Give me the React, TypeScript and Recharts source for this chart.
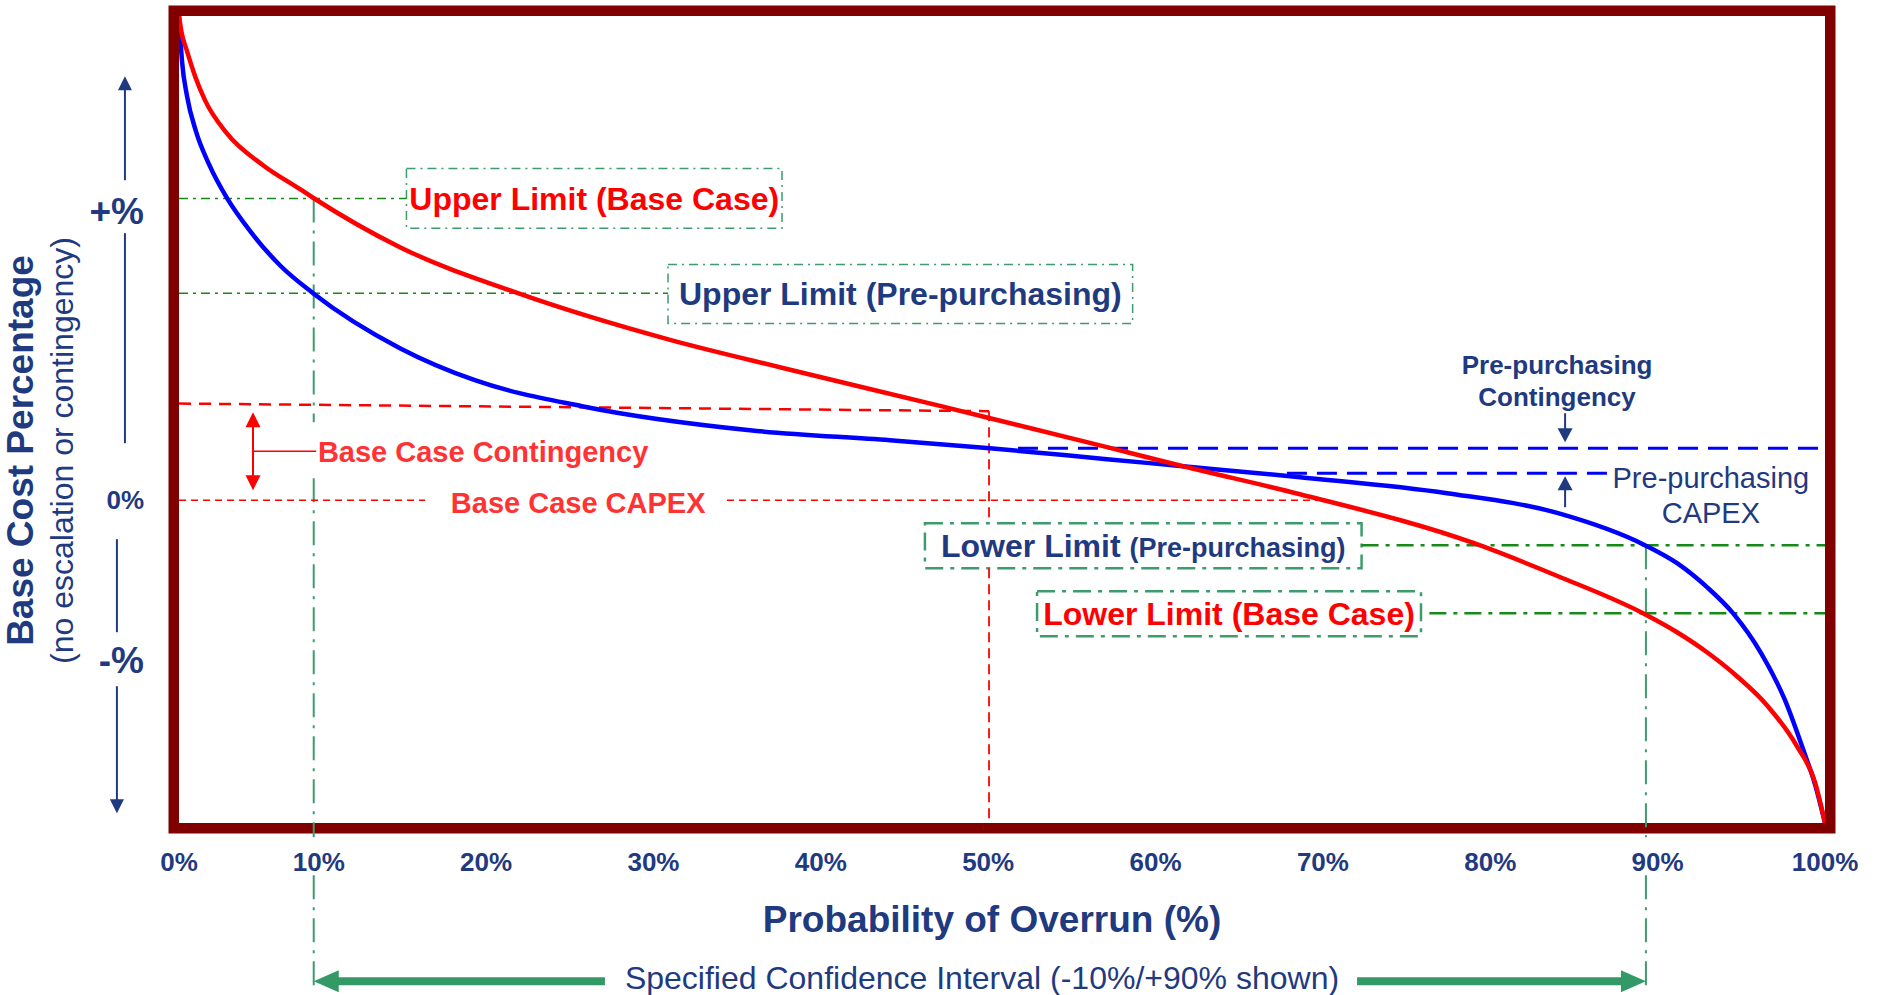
import React from "react";
import {
  LineChart,
  Line,
  XAxis,
  YAxis,
  ReferenceLine,
  ReferenceArea,
  ReferenceDot,
} from "recharts";

const FONT = "'Liberation Sans', Arial, Helvetica, sans-serif";
const NAVY = "#1F3A7F";
const RED = "#FF0000";
const SOFT_RED = "#FF3333";
const BLUE = "#0000FF";
const FRAME = "#800000";
const LINE_GREEN = "#168A16";
const BOX_GREEN = "#3D9C6D";
const ARROW_GREEN = "#339966";

// x axis: the "0%" label sits on the frame, 10%..100% are evenly spaced
const xStart = 1.65;
const xTicks = [xStart, 10, 20, 30, 40, 50, 60, 70, 80, 90, 100];
const xTickLabels = ["0%", "10%", "20%", "30%", "40%", "50%", "60%", "70%", "80%", "90%", "100%"];

// y axis has no numbers, just direction markers
const yTicks = [35.9, 0, -19.8];
const yTickLabels = ["+%", "0%", "-%"];

// Base case curve (red)
const baseCaseX = [1.65, 1.8, 2.11, 2.61, 3.2, 4.5, 6.67, 8.88, 9.66, 14.85, 21.9, 31.05, 38.04, 47.18, 50.11, 57.1, 61.64, 68.63, 79.03, 84.05, 89.24, 91.16, 92.95, 94.74, 96.53, 98.32, 99.4, 100];
const baseCaseY = [60, 57.99, 55.76, 52.54, 49.57, 45.48, 41.51, 38.54, 37.48, 31.35, 25.65, 19.83, 16.23, 11.65, 10.16, 6.57, 4.21, 0.74, -5.33, -9.42, -14.13, -16.36, -18.84, -21.81, -25.4, -30.48, -34.94, -40];

// Pre-purchasing curve (blue)
const prePurchX = [1.65, 1.83, 2.13, 2.66, 3.44, 4.52, 5.95, 7.74, 9.66, 14.85, 19.33, 25.73, 35.77, 44.13, 50.11, 57.1, 61.64, 68.63, 77.41, 84.05, 89.24, 91.16, 92.95, 94.5, 96.18, 97.61, 98.69, 99.4, 100];
const prePurchY = [60, 54.4, 50.06, 45.73, 41.64, 37.42, 33.21, 28.99, 25.65, 18.84, 14.87, 11.65, 8.67, 7.43, 6.44, 5.08, 4.21, 2.85, 0.87, -1.61, -5.58, -7.81, -10.78, -14.0, -18.96, -24.78, -30.86, -35.19, -40];

// levels and markers
const upperBase = 37.4;
const upperPre = 25.65;
const lowerPre = -5.58;
const lowerBase = -14.0;
const baseContLeft = 11.98;
const baseContRight = 11.03;
const baseCapex = 0;
const preCont = 6.44;
const preCapex = 3.35;
const p10 = 9.7;
const p50 = 50.05;
const p90 = 89.3;
const yMin = -40;
const yMax = 60;

// annotation boxes [x1, x2, y1, y2]
const boxUpperBase = [15.24, 37.68, 33.7, 41.1];
const boxUpperPre = [30.87, 58.63, 21.9, 29.2];
const boxLowerPre = [46.22, 72.31, -8.43, -2.85];
const boxLowerBase = [52.92, 75.86, -16.85, -11.28];

const baseCase = baseCaseX.map((x, i) => ({ x, y: baseCaseY[i] }));
const prePurch = prePurchX.map((x, i) => ({ x, y: prePurchY[i] }));

type ArrowOpts = { color: string; width: number; head: number; half: number; both?: boolean };

const arrow = (o: ArrowOpts) => (p: any) => {
  const { x1, y1, x2, y2 } = p;
  const len = Math.hypot(x2 - x1, y2 - y1) || 1;
  const ux = (x2 - x1) / len;
  const uy = (y2 - y1) / len;
  const tri = (tx: number, ty: number, dx: number, dy: number) => {
    const bx = tx - dx * o.head;
    const by = ty - dy * o.head;
    return `${tx},${ty} ${bx - dy * o.half},${by + dx * o.half} ${bx + dy * o.half},${by - dx * o.half}`;
  };
  const sx = o.both ? x1 + ux * o.head * 0.8 : x1;
  const sy = o.both ? y1 + uy * o.head * 0.8 : y1;
  return (
    <g>
      <line x1={sx} y1={sy} x2={x2 - ux * o.head * 0.8} y2={y2 - uy * o.head * 0.8} stroke={o.color} strokeWidth={o.width} />
      <polygon points={tri(x2, y2, ux, uy)} fill={o.color} />
      {o.both && <polygon points={tri(x1, y1, -ux, -uy)} fill={o.color} />}
    </g>
  );
};

type NoteOpts = { text: string; color: string; size: number; bold?: boolean; anchor?: "start" | "middle" | "end" };

const note = (o: NoteOpts) => (p: any) => (
  <text
    x={p.cx}
    y={p.cy}
    dy="0.355em"
    textAnchor={o.anchor ?? "middle"}
    fill={o.color}
    fontSize={o.size}
    fontWeight={o.bold ? "bold" : "normal"}
    fontFamily={FONT}
  >
    {o.text}
  </text>
);

const box =
  (parts: { text: string; size: number }[], color: string, width: number, dash: string) => (p: any) => (
    <g>
      <rect x={p.x} y={p.y} width={p.width} height={p.height} fill="#fff" stroke={BOX_GREEN} strokeWidth={width} strokeDasharray={dash} />
      <text
        x={p.x + p.width / 2}
        y={p.y + p.height / 2}
        dy="0.355em"
        textAnchor="middle"
        fill={color}
        fontSize={parts[0].size}
        fontWeight="bold"
        fontFamily={FONT}
      >
        {parts.map((t, i) => (
          <tspan key={i} fontSize={t.size}>
            {t.text}
          </tspan>
        ))}
      </text>
    </g>
  );

const frame = (p: any) => (
  <rect x={p.x - 5.25} y={p.y - 5.25} width={p.width + 10.5} height={p.height + 10.5} fill="none" stroke={FRAME} strokeWidth={10.5} />
);

const XTick = (p: any) => {
  const i = xTicks.findIndex((t) => Math.abs(t - p.payload.value) < 0.01);
  return (
    <text x={p.x} y={p.y} dy="0.355em" textAnchor="middle" fill={NAVY} fontSize={26} fontWeight="bold" fontFamily={FONT}>
      {xTickLabels[i]}
    </text>
  );
};

const YTick = (p: any) => {
  const i = yTicks.findIndex((t) => Math.abs(t - p.payload.value) < 0.01);
  const label = yTickLabels[i];
  return (
    <text x={p.x} y={p.y} dy="0.355em" textAnchor="end" fill={NAVY} fontSize={label === "0%" ? 26 : 37} fontWeight="bold" fontFamily={FONT}>
      {label}
    </text>
  );
};

const YTitle = (p: any) => {
  const vb = p.viewBox ?? { x: 0, y: 16, width: 179, height: 807 };
  const cy = vb.y + vb.height / 2 + 31;
  return (
    <g>
      <text transform={`translate(${vb.x + 33}, ${cy}) rotate(-90)`} textAnchor="middle" fill={NAVY} fontSize={37} fontWeight="bold" fontFamily={FONT}>
        Base Cost Percentage
      </text>
      <text transform={`translate(${vb.x + 73}, ${cy}) rotate(-90)`} textAnchor="middle" fill={NAVY} fontSize={32} fontFamily={FONT}>
        (no escalation or contingency)
      </text>
    </g>
  );
};

const XTitle = (p: any) => {
  const vb = p.viewBox ?? { x: 179, y: 823, width: 1646, height: 172 };
  return (
    <text x={vb.x + vb.width / 2 - 10} y={vb.y + 96} dy="0.355em" textAnchor="middle" fill={NAVY} fontSize={37} fontWeight="bold" fontFamily={FONT}>
      Probability of Overrun (%)
    </text>
  );
};

const thinGreen = { stroke: LINE_GREEN, strokeWidth: 1.5, strokeDasharray: "9 5 3 5" };
const thickGreen = { stroke: LINE_GREEN, strokeWidth: 2.5, strokeDasharray: "17 7 4 7" };
const vertGreen = { stroke: BOX_GREEN, strokeWidth: 2, strokeDasharray: "24 8 3 8" };

export default function App() {
  return (
    <div style={{ position: "absolute", left: 0, top: 0, background: "#fff" }}>
      <LineChart width={1878} height={995} margin={{ top: 16, right: 53, bottom: 0, left: 0 }}>
        <XAxis
          type="number"
          dataKey="x"
          domain={[xStart, 100]}
          ticks={xTicks}
          interval={0}
          height={172}
          axisLine={false}
          tickLine={false}
          tickSize={0}
          tickMargin={39}
          tick={XTick}
          allowDataOverflow
          label={{ content: XTitle }}
        />
        <YAxis
          type="number"
          domain={[yMin, yMax]}
          ticks={yTicks}
          interval={0}
          width={179}
          axisLine={false}
          tickLine={false}
          tickSize={0}
          tickMargin={35}
          tick={YTick}
          allowDataOverflow
          label={{ content: YTitle }}
        />

        {/* y axis direction arrows */}
        <ReferenceLine segment={[{ x: -1.58, y: 7.06 }, { x: -1.58, y: 33.09 }]} stroke={NAVY} strokeWidth={2} ifOverflow="visible" />
        <ReferenceLine
          segment={[{ x: -1.58, y: 39.65 }, { x: -1.58, y: 52.54 }]}
          ifOverflow="visible"
          shape={arrow({ color: NAVY, width: 2, head: 14, half: 7 })}
        />
        <ReferenceLine segment={[{ x: -2.06, y: -4.83 }, { x: -2.06, y: -16.36 }]} stroke={NAVY} strokeWidth={2} ifOverflow="visible" />
        <ReferenceLine
          segment={[{ x: -2.06, y: -23.05 }, { x: -2.06, y: -38.79 }]}
          ifOverflow="visible"
          shape={arrow({ color: NAVY, width: 2, head: 14, half: 7 })}
        />

        {/* limit guide lines */}
        <ReferenceLine segment={[{ x: xStart, y: upperBase }, { x: boxUpperBase[0], y: upperBase }]} {...thinGreen} />
        <ReferenceLine segment={[{ x: xStart, y: upperPre }, { x: boxUpperPre[0], y: upperPre }]} {...thinGreen} />
        <ReferenceLine segment={[{ x: boxLowerPre[1], y: lowerPre }, { x: 100, y: lowerPre }]} {...thickGreen} />
        <ReferenceLine segment={[{ x: boxLowerBase[1] + 0.5, y: lowerBase }, { x: 100, y: lowerBase }]} {...thickGreen} />

        {/* confidence interval verticals */}
        <ReferenceLine segment={[{ x: p10, y: upperBase }, { x: p10, y: 9.67 }]} {...vertGreen} ifOverflow="visible" />
        <ReferenceLine segment={[{ x: p10, y: 2.73 }, { x: p10, y: -41.76 }]} {...vertGreen} ifOverflow="visible" />
        <ReferenceLine segment={[{ x: p10, y: -46.47 }, { x: p10, y: -60.5 }]} {...vertGreen} ifOverflow="visible" />
        <ReferenceLine segment={[{ x: p90, y: lowerPre }, { x: p90, y: -41.76 }]} {...vertGreen} ifOverflow="visible" />
        <ReferenceLine segment={[{ x: p90, y: -46.47 }, { x: p90, y: -60.5 }]} {...vertGreen} ifOverflow="visible" />

        {/* base case contingency / capex */}
        <ReferenceLine
          segment={[{ x: xStart, y: baseContLeft }, { x: p50, y: baseContRight }]}
          stroke={RED}
          strokeWidth={2.5}
          strokeDasharray="12 8"
        />
        <ReferenceLine segment={[{ x: p50, y: baseContRight }, { x: p50, y: boxLowerPre[3] }]} stroke={RED} strokeWidth={1.8} strokeDasharray="10 6" />
        <ReferenceLine segment={[{ x: p50, y: boxLowerPre[2] }, { x: p50, y: yMin }]} stroke={RED} strokeWidth={1.8} strokeDasharray="10 6" />
        <ReferenceLine segment={[{ x: xStart, y: baseCapex }, { x: 16.35, y: baseCapex }]} stroke={RED} strokeWidth={1.5} strokeDasharray="7 5" />
        <ReferenceLine segment={[{ x: 34.39, y: baseCapex }, { x: 70.06, y: baseCapex }]} stroke={RED} strokeWidth={1.5} strokeDasharray="7 5" />
        <ReferenceLine
          segment={[{ x: 6.07, y: 1.24 }, { x: 6.07, y: 10.9 }]}
          shape={arrow({ color: RED, width: 2, head: 15, half: 7.5, both: true })}
        />
        <ReferenceLine segment={[{ x: 6.07, y: 6.07 }, { x: 9.85, y: 6.07 }]} stroke={RED} strokeWidth={1.5} />

        {/* pre-purchasing contingency / capex */}
        <ReferenceLine segment={[{ x: 51.78, y: preCont }, { x: 100, y: preCont }]} stroke={BLUE} strokeWidth={3} strokeDasharray="20 10" />
        <ReferenceLine segment={[{ x: 67.85, y: preCapex }, { x: 87.15, y: preCapex }]} stroke={BLUE} strokeWidth={3} strokeDasharray="20 10" />
        <ReferenceLine segment={[{ x: 84.47, y: 10.78 }, { x: 84.47, y: 7.19 }]} shape={arrow({ color: NAVY, width: 2, head: 14, half: 7.5 })} />
        <ReferenceLine segment={[{ x: 84.47, y: -0.87 }, { x: 84.47, y: 2.97 }]} shape={arrow({ color: NAVY, width: 2, head: 14, half: 7.5 })} />

        {/* confidence interval arrows */}
        <ReferenceLine
          segment={[{ x: 27.1, y: -59.6 }, { x: p10, y: -59.6 }]}
          ifOverflow="visible"
          shape={arrow({ color: ARROW_GREEN, width: 8, head: 25, half: 11 })}
        />
        <ReferenceLine
          segment={[{ x: 72.04, y: -59.6 }, { x: p90, y: -59.6 }]}
          ifOverflow="visible"
          shape={arrow({ color: ARROW_GREEN, width: 8, head: 25, half: 11 })}
        />

        {/* boxed labels */}
        <ReferenceArea
          x1={boxUpperBase[0]}
          x2={boxUpperBase[1]}
          y1={boxUpperBase[2]}
          y2={boxUpperBase[3]}
          shape={box([{ text: "Upper Limit (Base Case)", size: 32 }], RED, 1.5, "9 5 2 5")}
        />
        <ReferenceArea
          x1={boxUpperPre[0]}
          x2={boxUpperPre[1]}
          y1={boxUpperPre[2]}
          y2={boxUpperPre[3]}
          shape={box([{ text: "Upper Limit (Pre-purchasing)", size: 32 }], NAVY, 1.5, "9 5 2 5")}
        />
        <ReferenceArea
          x1={boxLowerPre[0]}
          x2={boxLowerPre[1]}
          y1={boxLowerPre[2]}
          y2={boxLowerPre[3]}
          shape={box(
            [
              { text: "Lower Limit ", size: 32 },
              { text: "(Pre-purchasing)", size: 27 },
            ],
            NAVY,
            2.5,
            "18 7 4 7"
          )}
        />
        <ReferenceArea
          x1={boxLowerBase[0]}
          x2={boxLowerBase[1]}
          y1={boxLowerBase[2]}
          y2={boxLowerBase[3]}
          shape={box([{ text: "Lower Limit (Base Case)", size: 32 }], RED, 2.5, "18 7 4 7")}
        />

        {/* free text */}
        <ReferenceDot x={9.95} y={5.95} r={0} shape={note({ text: "Base Case Contingency", color: SOFT_RED, size: 29, bold: true, anchor: "start" })} />
        <ReferenceDot x={25.5} y={-0.37} r={0} shape={note({ text: "Base Case CAPEX", color: SOFT_RED, size: 29, bold: true })} />
        <ReferenceDot x={83.99} y={16.73} r={0} shape={note({ text: "Pre-purchasing", color: NAVY, size: 26, bold: true })} />
        <ReferenceDot x={83.99} y={12.76} r={0} shape={note({ text: "Contingency", color: NAVY, size: 26, bold: true })} />
        <ReferenceDot x={93.18} y={2.73} r={0} shape={note({ text: "Pre-purchasing", color: NAVY, size: 29 })} />
        <ReferenceDot x={93.18} y={-1.61} r={0} shape={note({ text: "CAPEX", color: NAVY, size: 29 })} />
        <ReferenceDot
          x={49.63}
          y={-59.2}
          r={0}
          ifOverflow="visible"
          shape={note({ text: "Specified Confidence Interval (-10%/+90% shown)", color: NAVY, size: 32 })}
        />

        <Line data={prePurch} dataKey="y" type="monotone" stroke={BLUE} strokeWidth={4.5} dot={false} isAnimationActive={false} />
        <Line data={baseCase} dataKey="y" type="monotone" stroke={RED} strokeWidth={4.5} dot={false} isAnimationActive={false} />

        <ReferenceArea x1={xStart} x2={100} y1={yMin} y2={yMax} shape={frame} />
      </LineChart>
    </div>
  );
}
